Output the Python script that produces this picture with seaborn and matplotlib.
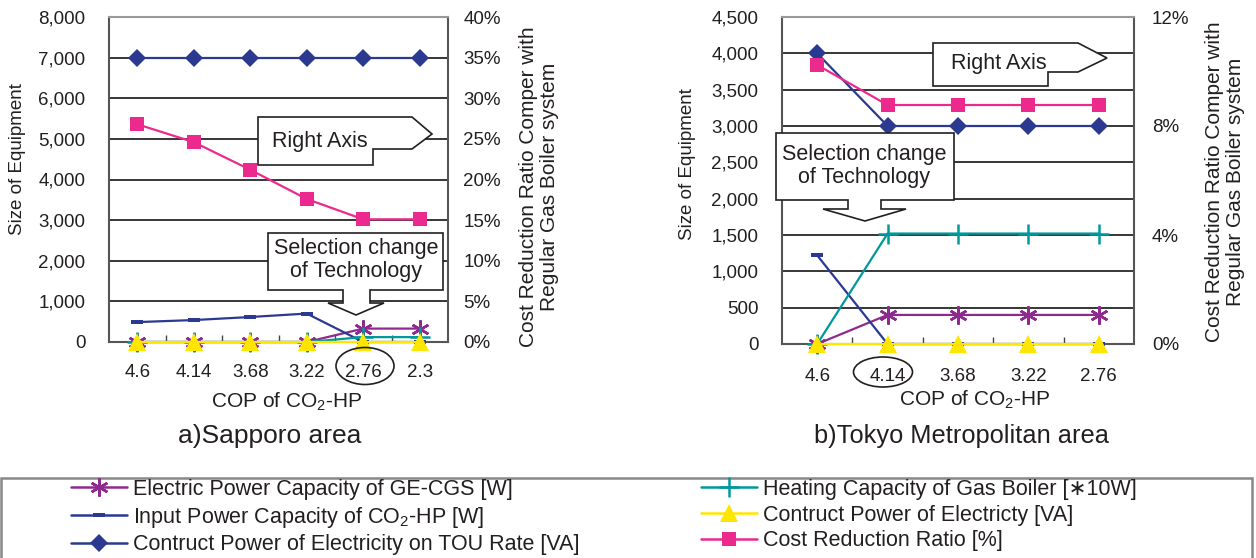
# -*- coding: utf-8 -*-
import numpy as np
import pandas as pd
import seaborn as sns
from matplotlib import pyplot as plt
from matplotlib.lines import Line2D
from matplotlib.patches import Polygon, Ellipse, Rectangle
from matplotlib.ticker import FuncFormatter, FixedLocator

# ---- data ----
cop_sapporo = ['4.6', '4.14', '3.68', '3.22', '2.76', '2.3']
cop_tokyo = ['4.6', '4.14', '3.68', '3.22', '2.76']

# Sapporo
sap_gecgs = [0, 0, 0, 0, 330, 330]
sap_hp = [490, 540, 615, 700, 0, 0]
sap_tou = [7000, 7000, 7000, 7000, 7000, 7000]
sap_boiler = [0, 0, 0, 0, 120, 120]
sap_contract = [0, 0, 0, 0, 0, 0]
sap_cost = [26.8, 24.6, 21.2, 17.6, 15.1, 15.1]

# Tokyo
tok_gecgs = [0, 400, 400, 400, 400]
tok_hp = [1220, 0, 0, 0, 0]
tok_tou = [4000, 3000, 3000, 3000, 3000]
tok_boiler = [0, 1520, 1520, 1520, 1520]
tok_contract = [0, 0, 0, 0, 0]
tok_cost = [10.24, 8.77, 8.77, 8.77, 8.77]

labels = ['Electric Power Capacity of GE-CGS [W]',
          'Input Power Capacity of CO$_\\mathregular{2}$-HP [W]',
          'Contruct Power of Electricity on TOU Rate [VA]',
          'Heating Capacity of Gas Boiler [\u221710W]',
          'Contruct Power of Electricty [VA]',
          'Cost Reduction Ratio [%]']

# ---- style ----
sns.set_theme(style='white')
plt.rcParams['font.family'] = ['Liberation Sans', 'DejaVu Sans']
plt.rcParams['mathtext.fontset'] = 'custom'
plt.rcParams['mathtext.rm'] = 'Liberation Sans'
plt.rcParams['mathtext.it'] = 'Liberation Sans:italic'
plt.rcParams['text.color'] = '#231f20'
plt.rcParams['axes.labelcolor'] = '#231f20'
plt.rcParams['xtick.color'] = '#231f20'
plt.rcParams['ytick.color'] = '#231f20'

C_PURPLE = '#8e2a8e'
C_NAVY = '#2b3990'
C_TEAL = '#00999b'
C_YELLOW = '#ffe600'
C_PINK = '#ec2a8e'
HP_MARK = [(-1, -0.4), (1, -0.4), (1, 0.4), (-1, 0.4)]

styles = [
    dict(color=C_PURPLE, marker=(6, 2, 0), markersize=13, mew=1.8),
    dict(color=C_NAVY, marker=HP_MARK, markersize=8, mew=0),
    dict(color=C_NAVY, marker='D', markersize=9, mew=0),
    dict(color=C_TEAL, marker='+', markersize=14, mew=1.8),
    dict(color=C_YELLOW, marker='^', markersize=13, mew=0),
    dict(color=C_PINK, marker='s', markersize=10, mew=0),
]

W, H = 1256, 558
fig = plt.figure(figsize=(W / 100, H / 100), dpi=100)
FS = 13.5


def px_ax(l, t, r, b):
    return [l / W, 1 - b / H, (r - l) / W, (b - t) / H]


def fx(px):
    return px / W


def fy(py):
    return 1 - py / H


def panel(rect, cats, series, cost, ymax, ystep, rmax, rticks):
    ax = fig.add_axes(rect)
    pos = np.arange(len(cats))
    for vals, st in zip(series, styles[:5]):
        df = pd.DataFrame({'x': pos, 'y': vals})
        sns.lineplot(data=df, x='x', y='y', ax=ax, lw=1.6, legend=False,
                     markeredgecolor=st['color'], clip_on=False, zorder=3, **st)
    ax.set_xlim(-0.5, len(cats) - 0.5)
    ax.set_ylim(0, ymax)
    ax.set_yticks(np.arange(0, ymax + 1, ystep))
    ax.yaxis.set_major_formatter(FuncFormatter(lambda v, p: f'{v:,.0f}'))
    ax.set_xticks(pos)
    ax.set_xticklabels(cats)
    ax.xaxis.set_minor_locator(FixedLocator(pos[:-1] + 0.5))
    ax.tick_params(axis='x', which='major', length=0, labelsize=FS, pad=16)
    ax.tick_params(axis='x', which='minor', length=5, width=1, direction='in',
                   color='#444444', bottom=True)
    ax.tick_params(axis='y', length=0, labelsize=FS, pad=17)
    ax.grid(True, axis='y', color='black', lw=1.1)
    ax.set_xlabel('')
    ax.set_ylabel('')
    for s in ax.spines.values():
        s.set_color('#555555')
        s.set_linewidth(1.5)
    ax.spines['top'].set_color('#999999')

    ax2 = ax.twinx()
    st = styles[5]
    df = pd.DataFrame({'x': pos, 'y': cost})
    sns.lineplot(data=df, x='x', y='y', ax=ax2, lw=1.6, legend=False,
                 markeredgecolor=st['color'], clip_on=False, **st)
    ax2.set_ylim(0, rmax)
    ax2.set_yticks(rticks)
    ax2.yaxis.set_major_formatter(FuncFormatter(lambda v, p: f'{v:.0f}%'))
    ax2.tick_params(axis='y', length=0, labelsize=FS, pad=11)
    ax2.set_ylabel('')
    ax2.grid(False)
    for s in ax2.spines.values():
        s.set_visible(False)
    return ax, ax2


axL, axL2 = panel(px_ax(109, 17, 448, 342), cop_sapporo,
                  [sap_gecgs, sap_hp, sap_tou, sap_boiler, sap_contract],
                  sap_cost, 8000, 1000, 40, np.arange(0, 41, 5))
axR, axR2 = panel(px_ax(782, 17, 1134, 344), cop_tokyo,
                  [tok_gecgs, tok_hp, tok_tou, tok_boiler, tok_contract],
                  tok_cost, 4500, 500, 12, [0, 4, 8, 12])
axR2.tick_params(axis='y', pad=13)
axR.tick_params(axis='x', which='major', pad=17)

# axis labels / titles
for x, y in [(18, 159), (687, 164)]:
    fig.text(fx(x), fy(y), 'Size of Equipment', rotation=90, ha='center',
             va='center', fontsize=13.5)
for x, y in [(539, 187), (1225, 182)]:
    fig.text(fx(x), fy(y), 'Cost Reduction Ratio Comper with\nRegular Gas Boiler system',
             rotation=90, ha='center', va='center', fontsize=15,
             linespacing=1.1)
fig.text(fx(287), fy(402), 'COP of CO$_\\mathregular{2}$-HP', ha='center', va='center', fontsize=15)
fig.text(fx(975), fy(400), 'COP of CO$_\\mathregular{2}$-HP', ha='center', va='center', fontsize=15)
fig.text(fx(270), fy(436), 'a)Sapporo area', ha='center', va='center', fontsize=19)
fig.text(fx(962), fy(436), 'b)Tokyo Metropolitan area', ha='center', va='center', fontsize=18.3)


# callouts (pixel positions)
def shape(pts, z=10):
    p = Polygon([(fx(a), fy(b)) for a, b in pts], closed=True, facecolor='white',
                edgecolor='#231f20', lw=1.2, transform=fig.transFigure, zorder=z)
    fig.add_artist(p)


CF = 15.5
shape([(258, 117), (412, 117), (432, 134), (412, 149), (373, 149), (373, 165), (258, 165)])
fig.text(fx(320), fy(141), 'Right Axis', ha='center', va='center', fontsize=CF, zorder=11)
shape([(268, 233), (443, 233), (443, 290), (370, 290), (370, 303), (384, 303), (356, 315),
       (328, 303), (343, 303), (343, 290), (268, 290)])
fig.text(fx(356), fy(260), 'Selection change\nof Technology', ha='center', va='center',
         fontsize=CF, linespacing=1.1, zorder=11)

shape([(933, 43), (1078, 43), (1107, 58), (1078, 72), (1048, 72), (1048, 86), (933, 86)])
fig.text(fx(999), fy(63), 'Right Axis', ha='center', va='center', fontsize=CF, zorder=11)
shape([(776, 133), (954, 133), (954, 200), (881, 200), (881, 209), (906, 209), (865, 221),
       (823, 209), (848, 209), (848, 200), (776, 200)])
fig.text(fx(864), fy(166), 'Selection change\nof Technology', ha='center', va='center',
         fontsize=CF, linespacing=1.1, zorder=11)

for cx, cy, w, h in [(365, 366, 58, 37), (883, 372, 59, 30)]:
    fig.add_artist(Ellipse((fx(cx), fy(cy)), w / W, h / H, facecolor='none',
                           edgecolor='#231f20', lw=1.2, transform=fig.transFigure, zorder=10))

# legend
fig.add_artist(Rectangle((fx(1), fy(560)), fx(1251), (560 - 478) / H, facecolor='none',
                         edgecolor='#888888', lw=1.8, transform=fig.transFigure))
LF = 15.5
handles = [Line2D([], [], lw=1.8, markeredgecolor=st['color'], **st) for st in styles]
for k, x0 in [(0, 71), (3, 701)]:
    fig.legend(handles[k:k + 3], labels[k:k + 3], loc='upper left',
               bbox_to_anchor=(fx(x0), fy(479)), frameon=False, fontsize=LF,
               handlelength=2.6, handletextpad=0.28, labelspacing=0.22,
               borderpad=0, borderaxespad=0)

fig.savefig('out.png', dpi=100)
